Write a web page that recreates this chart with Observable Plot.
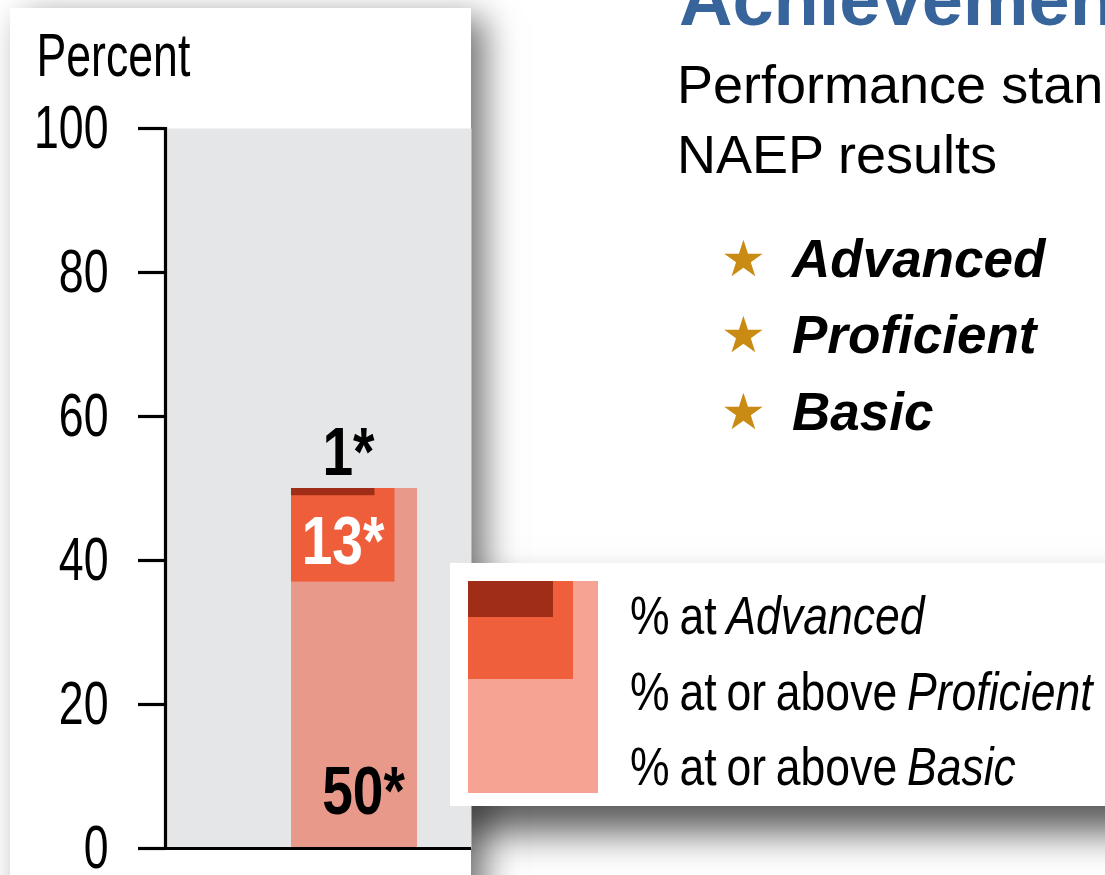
<!DOCTYPE html>
<html>
<head>
<meta charset="utf-8">
<script src="https://cdn.jsdelivr.net/npm/d3@7"></script>
<script src="https://cdn.jsdelivr.net/npm/@observablehq/plot@0.6"></script>
<style>
  html, body { margin: 0; padding: 0; }
  body { width: 1105px; height: 875px; overflow: hidden; position: relative; background: #ffffff;
         font-family: "Liberation Sans", Arial, sans-serif; }
  #panel { position: absolute; left: 10px; top: 8px; width: 461px; height: 900px; background: #fff;
           box-shadow: 14px 10px 32px rgba(0,0,0,0.55); z-index: 2; }
  #legendShadow { position: absolute; left: 450px; top: 563px; width: 720px; height: 243px;
                  box-shadow: 4px 26px 36px rgba(0,0,0,0.65); z-index: 1; background: #fff; }
  #legend { position: absolute; left: 450px; top: 563px; width: 720px; height: 243px; background: #fff; z-index: 3; }
  .txt { position: absolute; white-space: nowrap; margin: 0; }
  .sw { position: absolute; }
</style>
</head>
<body>
<div id="legendShadow"></div>
<div id="panel"></div>
<div id="legend"></div>
<script>
// ---------------- data ----------------
const categories = ["2019"];
const levels = ["Advanced", "Proficient", "Basic"];
const atOrAbove = [1, 13, 50];
const valueLabels = ["1*", "13*", "50*"];
const barColors = ["#a02d18", "#ee5e3b", "#e9998a"];
const legendColors = ["#a02d17", "#ef5f3c", "#f6a393"];
const legendPrefixes = ["% at ", "% at or above ", "% at or above "];
const yTicks = [0, 20, 40, 60, 80, 100];
const axisLabel = "Percent";
const titleText = "Achievement Levels";
const subtitleLines = ["Performance standards for reporting", "NAEP results"];
const bulletItems = ["Advanced", "Proficient", "Basic"];

// ---------------- table ----------------
const topValue = atOrAbove[levels.indexOf("Basic")];
const rows = levels.map((level, i) => ({
  category: categories[0], level, value: atOrAbove[i],
  y1: topValue - atOrAbove[i], y2: topValue, label: valueLabels[i]
}));
const byLevel = l => rows.filter(d => d.level === l);

const chartFont = "'Liberation Sans', Arial, sans-serif";

const chart = Plot.plot({
  width: 461,
  height: 867,
  marginLeft: 155,
  marginRight: 0,
  marginTop: 120,
  marginBottom: 27,
  style: { fontFamily: chartFont, background: "white", color: "black", overflow: "visible" },
  x: { domain: categories, paddingInner: 0, paddingOuter: 0.71, align: 0.7, axis: null },
  y: { domain: [0, 100], axis: null },
  marks: [
    Plot.frame({ fill: "#e5e6e8", stroke: null }),
    Plot.barY(byLevel("Basic"), { x: "category", y1: "y1", y2: "y2", fill: barColors[2] }),
    Plot.barY(byLevel("Proficient"), { x: "category", y1: "y1", y2: "y2", fill: barColors[1], insetRight: 22.5 }),
    Plot.barY(byLevel("Advanced"), { x: "category", y1: "y1", y2: "y2", fill: barColors[0], insetRight: 42.5 }),
    Plot.axisY({ ticks: yTicks, tickSize: 27, tickPadding: 30, fontSize: 62, strokeWidth: 3.2, label: null, tickFormat: d => String(d) }),
    Plot.frame({ anchor: "left", strokeWidth: 3.2 }),
    Plot.ruleY([0], { strokeWidth: 3.2 }),
    Plot.text([axisLabel], { frameAnchor: "top-left", text: d => d, dx: -129, dy: -53, textAnchor: "start", lineAnchor: "bottom", fontSize: 62 }),
    Plot.text(byLevel("Advanced"), { x: "category", y: "y2", text: "label", lineAnchor: "bottom", dy: -14, dx: -6, fontSize: 68, fontWeight: "bold", fill: "black" }),
    Plot.text(byLevel("Proficient"), { x: "category", y: "y2", text: "label", lineAnchor: "bottom", dy: 75, dx: -11.5, fontSize: 68, fontWeight: "bold", fill: "white" }),
    Plot.text(byLevel("Basic"), { x: "category", y: "y1", text: "label", lineAnchor: "bottom", dy: -35, dx: 9, fontSize: 68, fontWeight: "bold", fill: "black" })
  ]
});
document.getElementById("panel").appendChild(chart);

// thicker axis strokes
chart.querySelectorAll('[aria-label="y-axis tick"], [aria-label="y-axis tick"] path, [aria-label="frame"], [aria-label="rule"], [aria-label="rule"] line')
  .forEach(n => { if (n.getAttribute("stroke") !== "none") n.style.strokeWidth = "3.2px"; });

// condensed look: compress glyphs horizontally
chart.querySelectorAll("text").forEach(t => {
  const g = t.closest("g");
  const bold = (t.getAttribute("font-weight") || (g && g.getAttribute("font-weight")) || "") === "bold";
  const k = bold ? 0.81 : 0.72;
  const len = t.getComputedTextLength();
  if (len > 0) {
    t.setAttribute("textLength", (len * k).toFixed(1));
    t.setAttribute("lengthAdjust", "spacingAndGlyphs");
  }
});

// ---------------- HTML text helpers ----------------
function place(html, x, baseline, fs, extra) {
  const el = document.createElement("div");
  el.className = "txt";
  el.innerHTML = html;
  const asc = 0.905, desc = 0.212;
  el.style.left = x + "px";
  el.style.fontSize = fs + "px";
  el.style.lineHeight = fs + "px";
  el.style.top = (baseline - ((1 - (asc + desc)) / 2 + asc) * fs) + "px";
  Object.assign(el.style, extra || {});
  document.body.appendChild(el);
  return el;
}

// title & subtitle (slide)
place(titleText, 679, 26, 74, { fontWeight: "bold", color: "#37649b", zIndex: 0 });
place(subtitleLines[0], 677, 103, 54, { color: "#000" });
place(subtitleLines[1], 677, 173, 54, { color: "#000" });
const bulletBaselines = [277, 353, 430];
bulletItems.forEach((t, i) => {
  place("\u2605", 721, bulletBaselines[i] - 1, 50, { color: "#c98b14", fontFamily: "'DejaVu Sans', sans-serif" });
  place(t, 792, bulletBaselines[i], 53, { fontWeight: "bold", fontStyle: "italic", color: "#000" });
});

// legend
const legend = document.getElementById("legend");
const swatches = [
  { i: 2, x: 18, y: 18, w: 130, h: 212 },
  { i: 1, x: 18, y: 18, w: 105, h: 98 },
  { i: 0, x: 18, y: 18, w: 85, h: 36 }
];
swatches.forEach(s => {
  const d = document.createElement("div");
  d.className = "sw";
  Object.assign(d.style, { left: s.x + "px", top: s.y + "px", width: s.w + "px", height: s.h + "px", background: legendColors[s.i] });
  legend.appendChild(d);
});
const legendBaselines = [634, 710, 785];
levels.forEach((lvl, i) => {
  place(legendPrefixes[i] + "<i>" + lvl + "</i>", 630, legendBaselines[i], 53,
        { zIndex: 4, color: "#000", transform: "scaleX(0.84)", transformOrigin: "0 0", wordSpacing: "-3px" });
});
</script>
</body>
</html>
